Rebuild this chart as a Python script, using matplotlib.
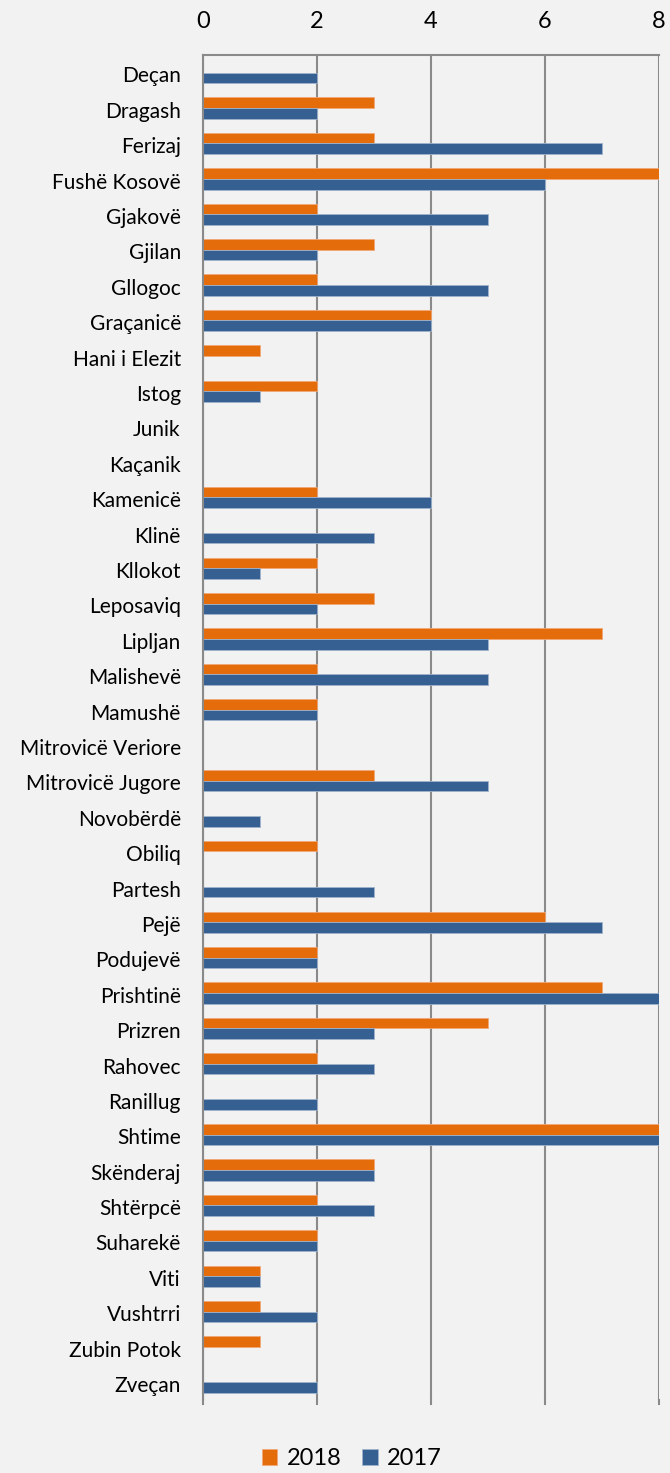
import matplotlib
matplotlib.use("Agg")
import matplotlib.pyplot as plt
import numpy as np

categories = ["Deçan", "Dragash", "Ferizaj", "Fushë Kosovë", "Gjakovë", "Gjilan", "Gllogoc",
              "Graçanicë", "Hani i Elezit", "Istog", "Junik", "Kaçanik", "Kamenicë", "Klinë",
              "Kllokot", "Leposaviq", "Lipljan", "Malishevë", "Mamushë", "Mitrovicë Veriore",
              "Mitrovicë Jugore", "Novobërdë", "Obiliq", "Partesh", "Pejë", "Podujevë",
              "Prishtinë", "Prizren", "Rahovec", "Ranillug", "Shtime", "Skënderaj", "Shtërpcë",
              "Suharekë", "Viti", "Vushtrri", "Zubin Potok", "Zveçan"]
values_2018 = [0, 3, 3, 8, 2, 3, 2, 4, 1, 2, 0, 0, 2, 0, 2, 3, 7, 2, 2, 0,
               3, 0, 2, 0, 6, 2, 7, 5, 2, 0, 8, 3, 2, 2, 1, 1, 1, 0]
values_2017 = [2, 2, 7, 6, 5, 2, 5, 4, 0, 1, 0, 0, 4, 3, 1, 2, 5, 5, 2, 0,
               5, 1, 0, 3, 7, 2, 8, 3, 3, 2, 8, 3, 3, 2, 1, 2, 0, 2]
xticks = [0, 2, 4, 6, 8]

plt.rcParams['font.family'] = ['Lato', 'DejaVu Sans']

bg = "#f2f2f2"
orange = "#e46c0a"
blue = "#366092"
grid = "#8a8a8a"

fig = plt.figure(figsize=(6.70, 14.73), dpi=100, facecolor=bg)
ax = fig.add_axes([203/670, 1 - 1400/1473, (659 - 203)/670, (1400 - 55)/1473])
ax.set_facecolor(bg)

y = np.arange(len(categories))
h = 0.30
ax.barh(y - h/2, values_2018, height=h, color=orange, edgecolor="#f0a878", linewidth=0.6, label="2018", zorder=3)
ax.barh(y + h/2, values_2017, height=h, color=blue, edgecolor="#9fb4cc", linewidth=0.6, label="2017", zorder=3)

ax.set_xlim(0, 8)
ax.set_ylim(len(categories) - 0.5, -0.5)
ax.set_xticks(xticks)
ax.xaxis.tick_top()
ax.tick_params(axis='x', top=False, bottom=False, labeltop=True, labelbottom=False,
               labelsize=17, pad=13, colors="black")
ax.set_yticks(y + 0.05)
ax.set_yticklabels(categories, fontsize=15)
ax.tick_params(axis='y', length=0, pad=16)

ax.grid(axis='x', color=grid, linewidth=1.5, zorder=1)
for s in ["right", "bottom"]:
    ax.spines[s].set_visible(False)
for s in ["top", "left"]:
    ax.spines[s].set_color(grid)
    ax.spines[s].set_linewidth(1.5)
ax.spines["left"].set_zorder(4)

# small tick marks below the bottom edge
for xv in xticks:
    ax.plot([xv, xv], [len(categories) - 0.5, len(categories) - 0.5 + 0.12], color=grid,
            linewidth=1.5, clip_on=False, zorder=1)

fig.legend(loc="lower center", bbox_to_anchor=(0.525, -0.012), ncol=2, frameon=False,
           fontsize=17, handlelength=0.65, handleheight=0.65, handletextpad=0.4, columnspacing=0.9)

fig.savefig("out.png", dpi=100, facecolor=bg)
